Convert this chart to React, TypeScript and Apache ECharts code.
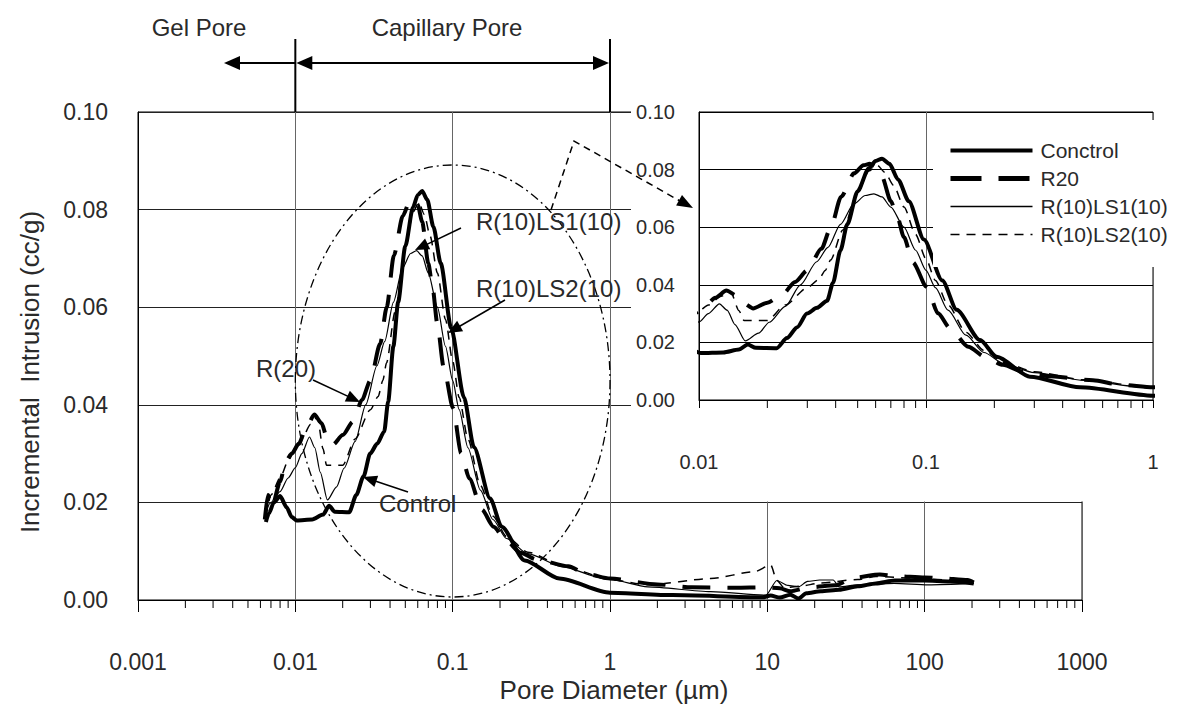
import React, { useEffect, useRef } from 'react';
import * as echarts from 'echarts';

const FONT = '"Liberation Sans", Arial, sans-serif';
const TEXT_COLOR = '#2a2a2a';

// ---- tick labels ----
const xTickLabels = ['0.001', '0.01', '0.1', '1', '10', '100', '1000'];
const insetXTickLabels = ['0.01', '0.1', '1'];
const seriesNames = ['Conctrol', 'R20', 'R(10)LS1(10)', 'R(10)LS2(10)'];

// ---- series values: [pore diameter (µm), incremental intrusion (cc/g)] ----
const controlData: [number, number][] = [
  [0.0065, 0.016], [0.0068, 0.0178], [0.0073, 0.02], [0.008, 0.0213], [0.0088, 0.019],
  [0.0095, 0.017], [0.0102, 0.0163], [0.0128, 0.0165], [0.015, 0.0175], [0.0164, 0.0193],
  [0.0178, 0.0181], [0.022, 0.018], [0.0244, 0.0215], [0.0271, 0.0253], [0.0299, 0.03],
  [0.0331, 0.032], [0.0367, 0.0345], [0.0389, 0.0406], [0.042, 0.052], [0.045, 0.061],
  [0.05, 0.0725], [0.056, 0.0805], [0.06, 0.083], [0.064, 0.0838], [0.069, 0.082],
  [0.0754, 0.0765], [0.084, 0.069], [0.0979, 0.0557], [0.118, 0.0415], [0.1365, 0.0313],
  [0.173, 0.0208], [0.205, 0.015], [0.287, 0.0081], [0.477, 0.0044], [1.0, 0.0015],
  [2.5, 0.001], [9.3, 0.00055], [10.5, 0.0009], [12.0, 0.0005], [14.0, 0.0011],
  [15.8, 0.0003], [17.7, 0.0014], [21.9, 0.0018], [28.6, 0.0021], [37.6, 0.0028],
  [49.0, 0.0034], [64.4, 0.004], [99.0, 0.004], [145, 0.0038], [205, 0.0034],
];

const r20Data: [number, number][] = [
  [0.0064, 0.0165], [0.0067, 0.0215], [0.0071, 0.019], [0.008, 0.0242], [0.0087, 0.0285],
  [0.0095, 0.03], [0.0105, 0.032], [0.0118, 0.0355], [0.0132, 0.038], [0.0147, 0.0362],
  [0.0158, 0.0335], [0.0173, 0.0318], [0.02, 0.0338], [0.0232, 0.0365], [0.0265, 0.041],
  [0.03, 0.045], [0.0346, 0.0525], [0.0381, 0.06], [0.0423, 0.0706], [0.0482, 0.0787],
  [0.053, 0.0815], [0.0565, 0.082], [0.06, 0.081], [0.064, 0.0775], [0.07, 0.069],
  [0.074, 0.0648], [0.08, 0.0565], [0.0875, 0.0478], [0.1007, 0.0393], [0.113, 0.0301],
  [0.1276, 0.0249], [0.1535, 0.0185], [0.182, 0.015], [0.218, 0.0122], [0.27, 0.0097],
  [0.34, 0.0083], [0.544, 0.0069], [0.716, 0.0053], [1.0, 0.0044], [2.0, 0.0032],
  [3.3, 0.0026], [6.3, 0.0025], [9.5, 0.0026], [12.0, 0.0024], [14.0, 0.0018],
  [18.7, 0.0026], [27.0, 0.003], [35.6, 0.0046], [51.9, 0.0052], [65.0, 0.0049],
  [100, 0.0046], [123, 0.0045], [188, 0.0041], [205, 0.0036],
];

const ls1Data: [number, number][] = [
  [0.0066, 0.0185], [0.0069, 0.0198], [0.008, 0.0222], [0.009, 0.025], [0.01, 0.0271],
  [0.011, 0.03], [0.0123, 0.0334], [0.0133, 0.0312], [0.0144, 0.0262], [0.016, 0.0205],
  [0.0183, 0.0232], [0.0204, 0.027], [0.024, 0.0325], [0.028, 0.04], [0.033, 0.048],
  [0.037, 0.053], [0.042, 0.061], [0.048, 0.068], [0.054, 0.071], [0.059, 0.0716],
  [0.064, 0.0705], [0.07, 0.067], [0.08, 0.06], [0.09, 0.052], [0.1, 0.045],
  [0.11, 0.039], [0.125, 0.0312], [0.15, 0.0225], [0.18, 0.0165], [0.22, 0.0126],
  [0.3, 0.0095], [0.5, 0.0068], [0.87, 0.0046], [1.0, 0.0042], [1.74, 0.0027],
  [4.36, 0.0017], [9.8, 0.001], [11.5, 0.004], [13.5, 0.003], [15.8, 0.0027],
  [18.0, 0.0038], [21.5, 0.0041], [26.2, 0.0041], [28.6, 0.0027], [37.6, 0.0031],
  [64.0, 0.0034], [105, 0.0031], [205, 0.0034],
];

const ls2Data: [number, number][] = [
  [0.0065, 0.017], [0.007, 0.0215], [0.008, 0.025], [0.009, 0.0285], [0.01, 0.031],
  [0.011, 0.033], [0.0125, 0.036], [0.0138, 0.0375], [0.015, 0.031], [0.0158, 0.0276],
  [0.02, 0.0276], [0.024, 0.033], [0.03, 0.039], [0.0336, 0.0417], [0.036, 0.045],
  [0.038, 0.0486], [0.043, 0.059], [0.05, 0.072], [0.056, 0.0795], [0.061, 0.0815],
  [0.066, 0.079], [0.072, 0.0745], [0.08, 0.067], [0.09, 0.0575], [0.1, 0.049],
  [0.11, 0.0415], [0.125, 0.033], [0.15, 0.0235], [0.18, 0.0172], [0.22, 0.013],
  [0.3, 0.0098], [0.5, 0.007], [1.0, 0.0042], [1.74, 0.0031], [4.36, 0.0044],
  [8.3, 0.0058], [10.5, 0.0072], [11.5, 0.004], [12.8, 0.0025], [16.0, 0.0028],
  [21.9, 0.0035], [37.6, 0.0042], [49.0, 0.0048], [84.0, 0.0045], [145, 0.0041],
  [205, 0.0034],
];

// minor (log) tick positions
const minorMultipliers = [2, 3, 4, 5, 6, 7, 8, 9];
const mainDecades = [0.001, 0.01, 0.1, 1, 10, 100];
const insetDecades = [0.01, 0.1];

const lineStyles: any[] = [
  { width: 4, type: 'solid' },
  { width: 4, type: [28, 17] },
  { width: 1.2, type: 'solid' },
  { width: 1.5, type: [9, 7] },
];
const legendLineStyles: any[] = [
  { width: 4, type: 'solid' },
  { width: 5, type: [31, 17] },
  { width: 1.3, type: 'solid' },
  { width: 1.5, type: [9, 7] },
];
const allData = [controlData, r20Data, ls1Data, ls2Data];

function minorTicks(decades: number[]) {
  const out: number[] = [];
  decades.forEach((d) => minorMultipliers.forEach((m) => out.push(+(d * m).toPrecision(6))));
  return out;
}

function logLabel(labels: string[], offset: number) {
  return (v: number) => {
    const e = Math.round(Math.log10(v));
    return labels[e + offset] ?? '';
  };
}

function arrowHead(tx: number, ty: number, fx: number, fy: number, len: number, half: number) {
  const dx = tx - fx;
  const dy = ty - fy;
  const l = Math.sqrt(dx * dx + dy * dy);
  const ux = dx / l;
  const uy = dy / l;
  const bx = tx - ux * len;
  const by = ty - uy * len;
  return [
    [tx, ty],
    [bx - uy * half, by + ux * half],
    [bx + uy * half, by - ux * half],
  ];
}

function arrow(fx: number, fy: number, tx: number, ty: number, len = 14, half = 6, lw = 1.5): any[] {
  const dx = tx - fx;
  const dy = ty - fy;
  const l = Math.sqrt(dx * dx + dy * dy);
  const ex = tx - (dx / l) * (len - 2);
  const ey = ty - (dy / l) * (len - 2);
  return [
    { type: 'line', z: 10, shape: { x1: fx, y1: fy, x2: ex, y2: ey }, style: { stroke: '#000', lineWidth: lw } },
    { type: 'polygon', z: 10, shape: { points: arrowHead(tx, ty, fx, fy, len, half) }, style: { fill: '#000' } },
  ];
}

function text(str: string, x: number, y: number, size: number, align = 'left', extra: any = {}): any {
  return {
    type: 'text',
    z: 10,
    x,
    y,
    ...extra,
    style: {
      text: str,
      x: 0,
      y: 0,
      font: `${size}px ${FONT}`,
      fill: TEXT_COLOR,
      align,
      verticalAlign: 'middle',
      textAlign: align,
      textVerticalAlign: 'middle',
    },
  };
}

export default function App() {
  const ref = useRef<HTMLDivElement>(null);

  useEffect(() => {
    const chart = echarts.init(ref.current!, null, { renderer: 'svg' });

    const tickSeries = (xi: number, values: number[], len: number, z: number) => ({
      type: 'custom',
      xAxisIndex: xi,
      yAxisIndex: xi,
      silent: true,
      z,
      clip: false,
      data: values.map((v) => [v, 0]),
      renderItem: (_p: any, api: any) => {
        const p = api.coord([api.value(0), api.value(1)]);
        return {
          type: 'line',
          shape: { x1: p[0], y1: p[1], x2: p[0], y2: p[1] + len },
          style: { stroke: '#000', lineWidth: 1 },
        };
      },
    });

    const lineSeries = (gi: number, z: number) =>
      allData.map((data, i) => ({
        type: 'line',
        name: seriesNames[i],
        xAxisIndex: gi,
        yAxisIndex: gi,
        data,
        z,
        symbol: 'none',
        showSymbol: false,
        smooth: 0.25,
        smoothMonotone: 'x',
        clip: true,
        lineStyle: { color: '#000', width: lineStyles[i].width, type: lineStyles[i].type, cap: 'butt', join: 'round' },
        itemStyle: { color: '#000' },
      }));

    const axisText = { color: TEXT_COLOR, fontFamily: FONT };

    chart.setOption({
      animation: false,
      backgroundColor: '#fff',
      grid: [
        { left: 138, top: 112, width: 944, height: 488, show: true, borderColor: '#000', borderWidth: 1, backgroundColor: 'transparent' },
        { left: 699, top: 112, width: 454, height: 288, show: true, borderColor: '#000', borderWidth: 1, backgroundColor: 'transparent', z: 5 },
      ],
      xAxis: [
        {
          type: 'log', logBase: 10, gridIndex: 0, min: 0.001, max: 1000,
          axisLine: { show: true, onZero: false, lineStyle: { color: '#000', width: 1 } },
          axisTick: { show: true, length: 12, lineStyle: { color: '#000' } },
          axisLabel: { formatter: logLabel(xTickLabels, 3), margin: 50, fontSize: 23, ...axisText },
          splitLine: { show: true, lineStyle: { color: '#666', width: 1 } },
        },
        {
          type: 'log', logBase: 10, gridIndex: 1, min: 0.01, max: 1, z: 5,
          axisLine: { show: true, onZero: false, lineStyle: { color: '#000', width: 1 } },
          axisTick: { show: true, length: 8, lineStyle: { color: '#000' } },
          axisLabel: { formatter: logLabel(insetXTickLabels, 2), margin: 52, fontSize: 20, ...axisText },
          splitLine: { show: true, lineStyle: { color: '#666', width: 1 } },
        },
      ],
      yAxis: [
        {
          type: 'value', gridIndex: 0, min: 0, max: 0.1, interval: 0.02,
          axisLine: { show: true, lineStyle: { color: '#000', width: 1 } },
          axisTick: { show: false },
          axisLabel: { formatter: (v: number) => v.toFixed(2), margin: 30, fontSize: 23, ...axisText },
          splitLine: { show: true, lineStyle: { color: '#222', width: 1 } },
        },
        {
          type: 'value', gridIndex: 1, min: 0, max: 0.1, interval: 0.02, z: 5,
          axisLine: { show: true, lineStyle: { color: '#000', width: 1 } },
          axisTick: { show: false },
          axisLabel: { formatter: (v: number) => v.toFixed(2), margin: 24, fontSize: 20, ...axisText },
          splitLine: { show: true, lineStyle: { color: '#000', width: 1 } },
        },
      ],
      legend: {
        data: seriesNames.map((name, i) => ({
          name,
          lineStyle: { color: '#000', width: legendLineStyles[i].width, type: legendLineStyles[i].type, cap: 'butt' },
        })),
        orient: 'vertical',
        left: 933,
        top: 120,
        padding: [20, 12, 22, 15],
        backgroundColor: '#fff',
        itemWidth: 82,
        itemHeight: 14,
        itemGap: 7,
        z: 10,
        selectedMode: false,
        itemStyle: { opacity: 0 },
        textStyle: { fontSize: 21, color: TEXT_COLOR, fontFamily: FONT, padding: [0, 0, 0, 3] },
      },
      series: [
        ...lineSeries(0, 2),
        ...lineSeries(1, 6),
        tickSeries(0, minorTicks(mainDecades), 8, 3),
        tickSeries(1, minorTicks(insetDecades), 8, 6),
      ],
    });

    const px = (v: number) => chart.convertToPixel({ xAxisIndex: 0 }, v) as number;
    const py = (v: number) => chart.convertToPixel({ yAxisIndex: 0 }, v) as number;
    const xGel = px(0.01);
    const xCap = px(1);
    const xMid = px(0.1);
    const yTop = py(0.1);
    const arrowY = 63;

    const graphic: any[] = [
      // white panel behind the inset
      { type: 'rect', z: 1, shape: { x: 631, y: 95, width: 546, height: 406.5 }, style: { fill: '#fff' } },
      // pore class annotation
      text('Gel Pore', 199, 27, 24, 'center'),
      text('Capillary Pore', 447, 27, 24, 'center'),
      { type: 'line', z: 10, shape: { x1: xGel, y1: 39, x2: xGel, y2: yTop }, style: { stroke: '#000', lineWidth: 2 } },
      { type: 'line', z: 10, shape: { x1: xCap, y1: 39, x2: xCap, y2: yTop }, style: { stroke: '#000', lineWidth: 2 } },
      ...arrow(xGel, arrowY, 224, arrowY, 16, 7, 2),
      { type: 'line', z: 10, shape: { x1: xGel + 14, y1: arrowY, x2: xCap - 14, y2: arrowY }, style: { stroke: '#000', lineWidth: 2 } },
      { type: 'polygon', z: 10, shape: { points: arrowHead(xGel + 1, arrowY, xCap, arrowY, 16, 7) }, style: { fill: '#000' } },
      { type: 'polygon', z: 10, shape: { points: arrowHead(xCap - 1, arrowY, xGel, arrowY, 16, 7) }, style: { fill: '#000' } },
      // dash-dot ellipse around the capillary region
      {
        type: 'ellipse', z: 10,
        shape: { cx: xMid, cy: 381, rx: (xCap - xGel) / 2, ry: 216 },
        style: { fill: 'none', stroke: '#000', lineWidth: 1.3, lineDash: [9, 4, 2, 4] },
      },
      // dashed arrow to the inset
      {
        type: 'polyline', z: 10,
        shape: { points: [[551, 210], [574, 141], [680, 201]] },
        style: { fill: 'none', stroke: '#000', lineWidth: 1.5, lineDash: [7, 5] },
      },
      { type: 'polygon', z: 10, shape: { points: arrowHead(693, 208, 574, 141, 16, 6) }, style: { fill: '#000' } },
      // curve labels
      text('R(10)LS1(10)', 476, 221, 24),
      ...arrow(461, 228, 415, 250),
      text('R(10)LS2(10)', 476, 288, 24),
      ...arrow(505, 300, 448, 333),
      text('R(20)', 256, 368, 24),
      ...arrow(313, 380, 360, 402),
      text('Control', 379, 503, 24),
      ...arrow(408, 492, 363, 477),
      // axis titles
      text('Pore Diameter (µm)', 614, 690, 26, 'center'),
      text('Incremental  Intrusion (cc/g)', 30, 372, 26, 'center', { rotation: Math.PI / 2 }),
    ];

    chart.setOption({ graphic });

    return () => chart.dispose();
  }, []);

  return (
    <div
      ref={ref}
      style={{ position: 'fixed', left: 0, top: 0, width: 1177, height: 713, background: '#fff' }}
    />
  );
}
